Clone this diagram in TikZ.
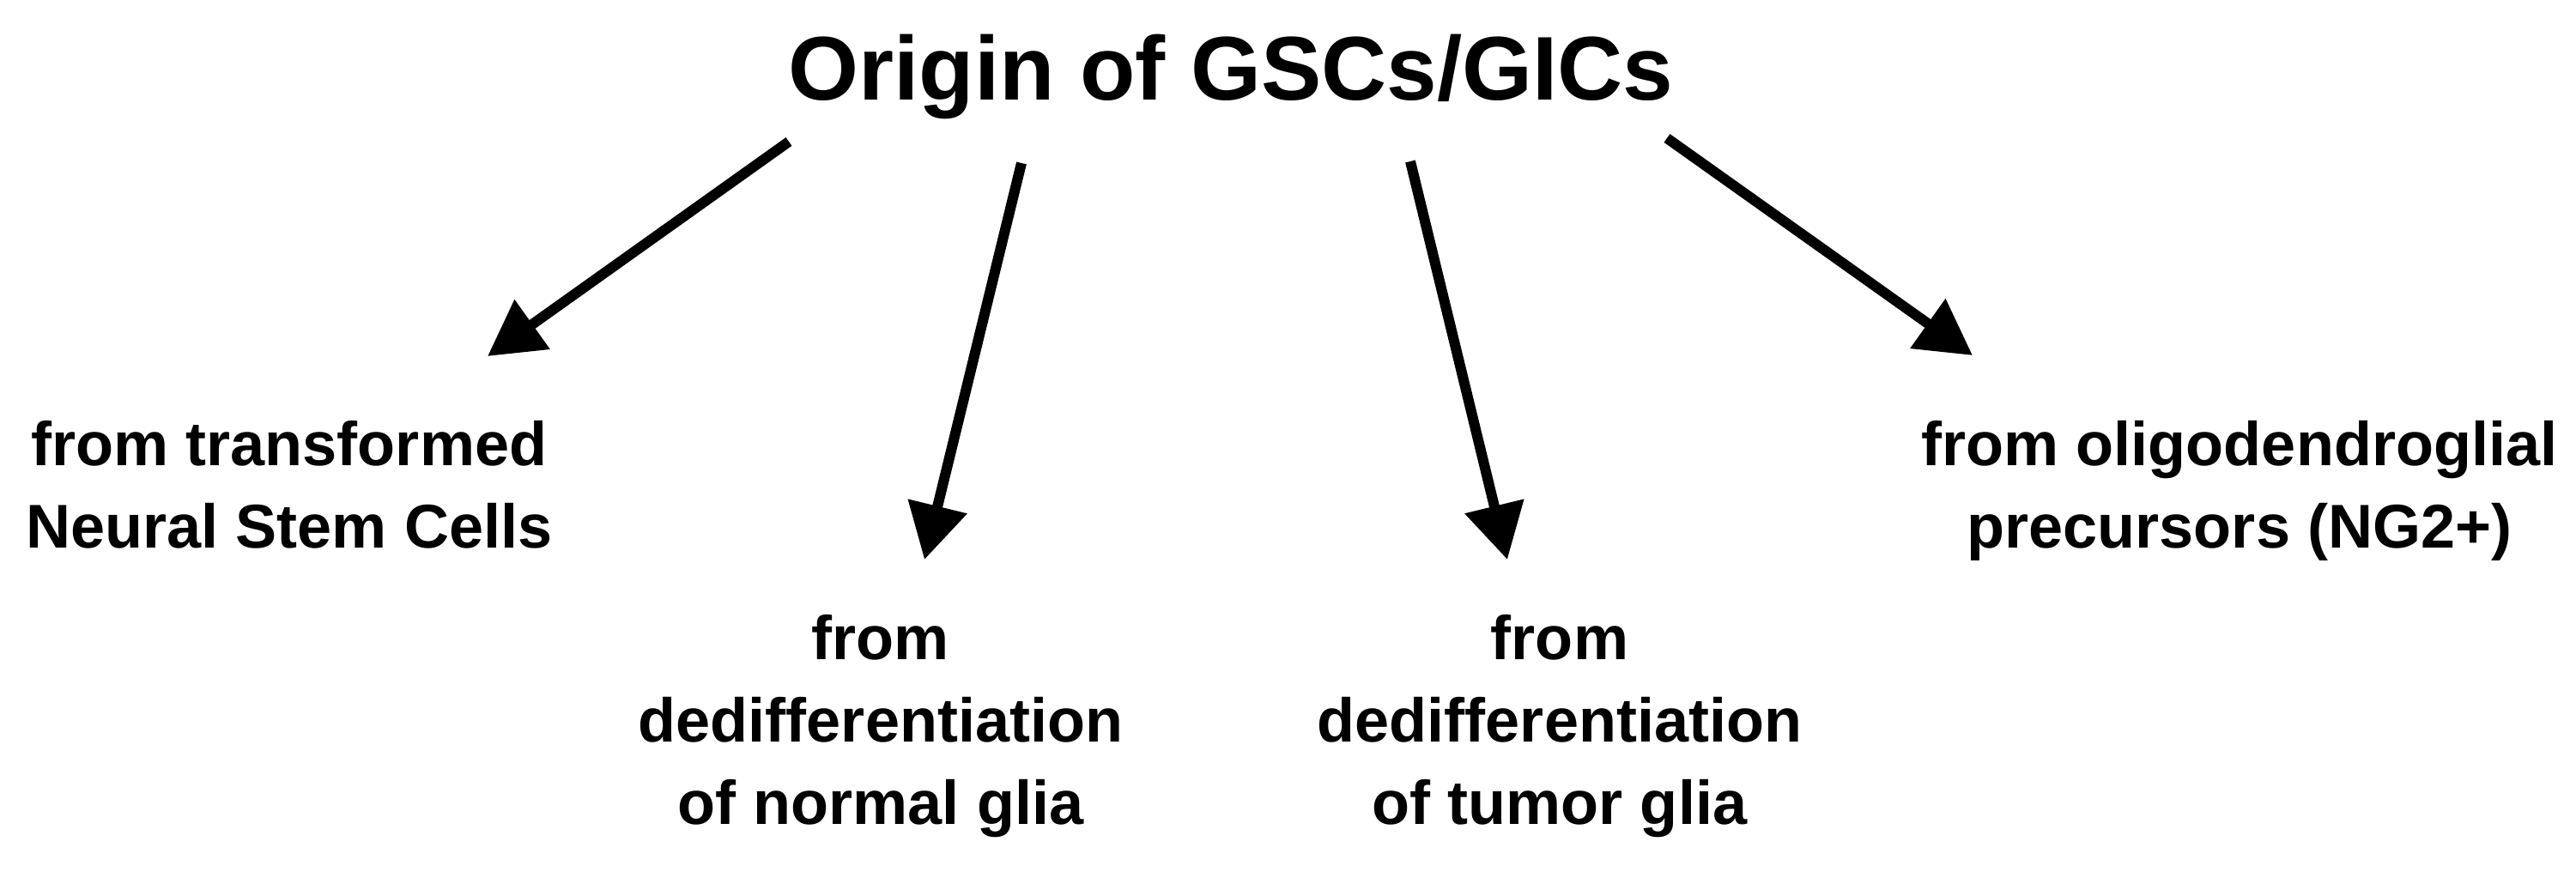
\documentclass[tikz,border=0pt]{standalone}
\usepackage{fontspec}
\setmainfont{Liberation Sans}
\usepackage{tikz}
\usetikzlibrary{arrows.meta, positioning}

\begin{document}
\begin{tikzpicture}[
      heading/.style={
        inner sep=0pt, anchor=base,
        font=\fontsize{30}{36}\selectfont\bfseries},
      origin/.style={
        inner sep=0pt, anchor=base, align=center,
        font=\fontsize{20.5}{27.3}\selectfont\bfseries},
      arr/.style={-{Triangle[length=0.64cm, width=0.68cm]}, line width=0.12cm, black}
    ]
    \useasboundingbox (0,0) rectangle (30.01,-10.15);

    % --- Title ---
    \node[heading] (title) at (14.34,-1.16) {Origin of GSCs/GICs};

    % --- Origins (anchored on their last line) ---
    \node[origin] (nsc)    at (3.37,-6.38)  {from transformed\\Neural Stem Cells};
    \node[origin] (normal) at (10.26,-9.60) {from\\dedifferentiation\\of normal glia};
    \node[origin] (tumor)  at (18.17,-9.60) {from\\dedifferentiation\\of tumor glia};
    \node[origin] (opc)    at (26.09,-6.38) {from oligodendroglial\\precursors (NG2+)};

    % --- Arrow ends ---
    \coordinate (nsc-from)    at (9.19,-1.65);
    \coordinate (nsc-to)      at (5.68,-4.15);
    \coordinate (normal-from) at (11.90,-1.90);
    \coordinate (normal-to)   at (10.77,-6.52);
    \coordinate (tumor-from)  at (16.43,-1.88);
    \coordinate (tumor-to)    at (17.56,-6.52);
    \coordinate (opc-from)    at (19.42,-1.61);
    \coordinate (opc-to)      at (22.98,-4.14);

    % --- Arrows ---
    \draw[arr] (nsc-from)    -- (nsc-to);
    \draw[arr] (normal-from) -- (normal-to);
    \draw[arr] (tumor-from)  -- (tumor-to);
    \draw[arr] (opc-from)    -- (opc-to);
  \end{tikzpicture}
\end{document}
